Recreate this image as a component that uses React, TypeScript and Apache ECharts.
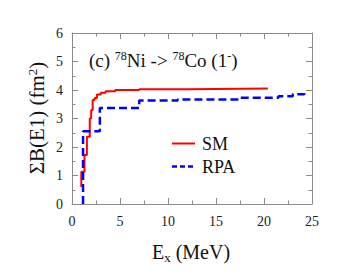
import React, { useEffect, useRef } from "react";
import * as echarts from "echarts";

const smEnergy = [0.97, 0.97, 1.3, 1.55, 1.85, 2.0, 2.15, 2.35, 2.6, 3.0, 3.5, 4.5, 7.0, 12.0, 20.4];
const smSum = [0.6, 1.13, 1.72, 2.36, 3.0, 3.3, 3.65, 3.72, 3.84, 3.9, 3.96, 4.0, 4.03, 4.05, 4.05];
const rpaEnergy = [1.15, 1.15, 2.9, 7.0, 11.0, 17.5, 21.5, 23.0, 24.2];
const rpaSum = [0.0, 2.55, 3.37, 3.63, 3.67, 3.73, 3.78, 3.85, 3.9];
const xTicks = [0, 5, 10, 15, 20, 25];
const yTicks = [0, 1, 2, 3, 4, 5, 6];
const seriesNames = ["SM", "RPA"];

const FONT = "'Liberation Serif', 'Times New Roman', serif";
const AXIS_COLOR = "#8a8a8a";
const RED = "#ff0000";
const BLUE = "#0000ff";

export default function App() {
  const ref = useRef<HTMLDivElement>(null);
  useEffect(() => {
    if (!ref.current) return;
    const chart = echarts.init(ref.current, null, { renderer: "svg" });
    const tick = { show: true, inside: true, length: 6, lineStyle: { color: AXIS_COLOR } };
    const minor = { show: true, splitNumber: 2, length: 3.5, lineStyle: { color: AXIS_COLOR } };
    const line = { show: true, onZero: false, lineStyle: { color: AXIS_COLOR, width: 1 } };
    chart.setOption({
      animation: false,
      textStyle: { fontFamily: FONT },
      grid: { left: 72, right: 26, top: 33, bottom: 75 },
      xAxis: [
        {
          type: "value",
          min: xTicks[0],
          max: xTicks[xTicks.length - 1],
          interval: 5,
          position: "bottom",
          axisLine: line,
          axisTick: tick,
          minorTick: minor,
          splitLine: { show: false },
          axisLabel: { color: "#222", fontFamily: FONT, fontSize: 14, margin: 10 },
        },
        {
          type: "value",
          min: xTicks[0],
          max: xTicks[xTicks.length - 1],
          interval: 5,
          position: "top",
          axisLine: line,
          axisTick: tick,
          minorTick: minor,
          splitLine: { show: false },
          axisLabel: { show: false },
        },
      ],
      yAxis: [
        {
          type: "value",
          min: yTicks[0],
          max: yTicks[yTicks.length - 1],
          interval: 1,
          position: "left",
          axisLine: line,
          axisTick: tick,
          minorTick: minor,
          splitLine: { show: false },
          axisLabel: { color: "#222", fontFamily: FONT, fontSize: 14, margin: 9 },
        },
        {
          type: "value",
          min: yTicks[0],
          max: yTicks[yTicks.length - 1],
          interval: 1,
          position: "right",
          axisLine: line,
          axisTick: tick,
          minorTick: minor,
          splitLine: { show: false },
          axisLabel: { show: false },
        },
      ],
      series: [
        {
          name: seriesNames[0],
          type: "line",
          step: "end",
          showSymbol: false,
          symbol: "none",
          lineStyle: { color: RED, width: 2 },
          itemStyle: { color: RED },
          data: smEnergy.map((e, i) => [e, smSum[i]]),
        },
        {
          name: seriesNames[1],
          type: "line",
          step: "end",
          showSymbol: false,
          symbol: "none",
          lineStyle: { color: BLUE, width: 2.5, type: [8, 4] },
          itemStyle: { color: BLUE },
          data: rpaEnergy.map((e, i) => [e, rpaSum[i]]),
        },
      ],
      graphic: [
        {
          type: "text",
          left: 89,
          top: 50,
          style: {
            text: "(c) {sup|78}Ni -> {sup|78}Co (1{sup|-})",
            fontFamily: FONT,
            fontSize: 19,
            fill: "#111",
            rich: {
              sup: { fontSize: 12, fontFamily: FONT, padding: [0, 0, 9, 0], fill: "#111" },
            },
          },
        },
        {
          type: "text",
          x: 37,
          y: 118,
          rotation: Math.PI / 2,
          style: {
            text: "ΣB(E1) (fm{sup|2})",
            fontFamily: FONT,
            fontSize: 21,
            fill: "#111",
            align: "center",
            verticalAlign: "middle",
            rich: {
              sup: { fontSize: 13, fontFamily: FONT, padding: [0, 0, 10, 0], fill: "#111" },
            },
          },
        },
        {
          type: "text",
          x: 191,
          y: 252,
          style: {
            text: "E{sub|x} (MeV)",
            fontFamily: FONT,
            fontSize: 20,
            fill: "#111",
            align: "center",
            verticalAlign: "middle",
            rich: {
              sub: { fontSize: 13, fontFamily: FONT, padding: [11, 0, 0, 0], fill: "#111" },
            },
          },
        },
        {
          type: "line",
          shape: { x1: 172, y1: 143.5, x2: 195, y2: 143.5 },
          style: { stroke: RED, lineWidth: 2 },
        },
        {
          type: "text",
          x: 202,
          y: 143.5,
          style: { text: seriesNames[0], fontFamily: FONT, fontSize: 18, fill: "#111", verticalAlign: "middle" },
        },
        {
          type: "line",
          shape: { x1: 172, y1: 166.5, x2: 195, y2: 166.5 },
          style: { stroke: BLUE, lineWidth: 2.5, lineDash: [5, 3] },
        },
        {
          type: "text",
          x: 202,
          y: 166.5,
          style: { text: seriesNames[1], fontFamily: FONT, fontSize: 18, fill: "#111", verticalAlign: "middle" },
        },
      ],
    });
    return () => chart.dispose();
  }, []);
  return <div ref={ref} style={{ width: 338, height: 279, position: "absolute", left: 0, top: 0 }} />;
}
